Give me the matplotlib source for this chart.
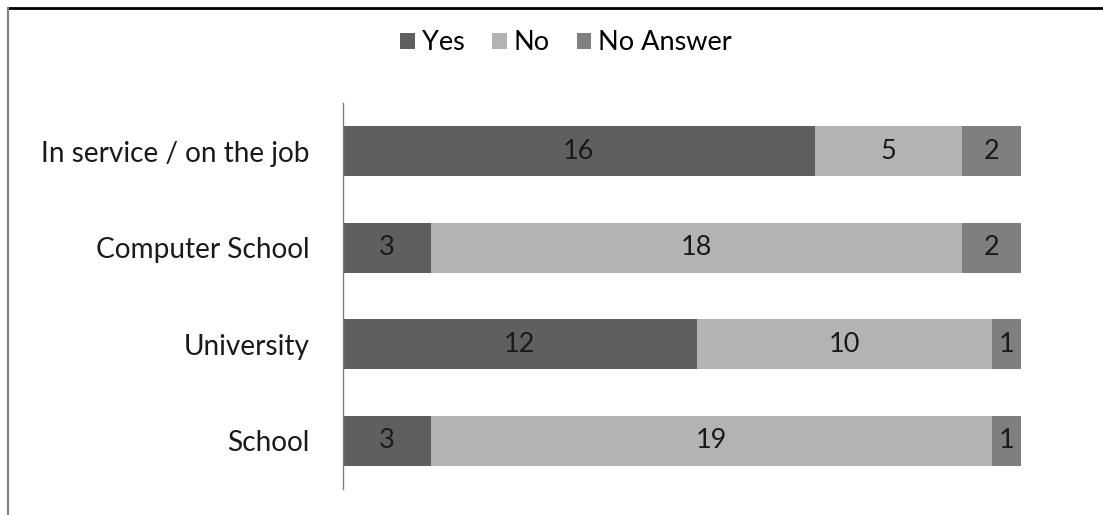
import matplotlib
matplotlib.use("Agg")
import matplotlib.pyplot as plt
from matplotlib.lines import Line2D

categories = ["School", "University", "Computer School", "In service / on the job"]
yes = [3, 12, 3, 16]
no = [19, 10, 18, 5]
no_answer = [1, 1, 2, 2]
series_names = ["Yes", "No", "No Answer"]
colors = ["#5f5f5f", "#b3b3b3", "#7f7f7f"]

plt.rcParams['font.family'] = ['Lato', 'DejaVu Sans']
FS = 19.5

fig = plt.figure(figsize=(11.03, 5.15), dpi=100)
ax = fig.add_axes([343/1103, 1-489/515, (1021-343)/1103, (489-103)/515])

ypos = list(range(len(categories)))
left = [0]*len(categories)
handles = []
for vals, name, col in zip([yes, no, no_answer], series_names, colors):
    bars = ax.barh(ypos, vals, left=left, height=0.52, color=col, label=name)
    for b, v, l in zip(bars, vals, left):
        ax.text(l + v/2, b.get_y() + b.get_height()/2, str(v), ha='center', va='center',
                fontsize=FS, color='#1a1a1a')
    left = [a+b for a, b in zip(left, vals)]
    handles.append(bars)

ax.set_xlim(0, 23)
ax.set_ylim(-0.5, 3.5)
ax.set_yticks(ypos)
ax.set_yticklabels(categories, fontsize=20.2, color='#1a1a1a')
ax.tick_params(axis='y', length=0, pad=24)
ax.set_xticks([])
for s in ['top', 'right', 'bottom']:
    ax.spines[s].set_visible(False)
ax.spines['left'].set_color('#808080')
ax.spines['left'].set_linewidth(1)

fig.legend(handles, series_names, loc='center', bbox_to_anchor=(566/1103, 1-43/515),
           ncol=3, frameon=False, fontsize=FS, handlelength=0.55, handleheight=0.55,
           handletextpad=0.25, columnspacing=1.0)

# frame lines
fig.add_artist(Line2D([8/1103, 1], [1-8/515, 1-8/515], color='black', linewidth=2, transform=fig.transFigure))
fig.add_artist(Line2D([8/1103, 8/1103], [0, 1-8/515], color='#808080', linewidth=1.5, transform=fig.transFigure))

fig.savefig("out.png", dpi=100)
